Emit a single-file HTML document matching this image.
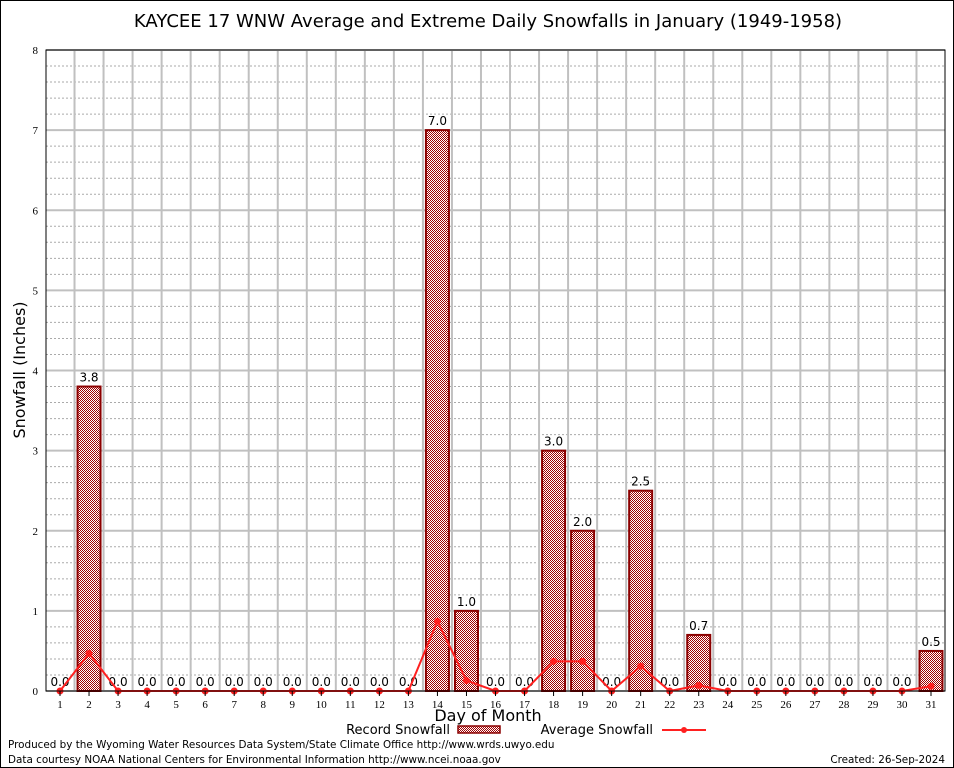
<!DOCTYPE html>
<html><head><meta charset="utf-8"><style>
body{margin:0;background:#fff}
svg{display:block;font-family:"DejaVu Sans","Liberation Sans",sans-serif}
</style></head><body>
<svg id="c" width="954" height="768" viewBox="0 0 954 768">
<defs>
<pattern id="hatch" width="2" height="2" patternUnits="userSpaceOnUse">
<rect width="2" height="2" fill="#fff"/><rect width="1" height="1" fill="#a00000"/><rect x="1" y="1" width="1" height="1" fill="#a00000"/>
</pattern>
</defs>
<rect x="0.5" y="0.5" width="953" height="767" fill="#fff" stroke="#000"/>
<text x="488" y="27" font-size="18" text-anchor="middle">KAYCEE 17 WNW Average and Extreme Daily Snowfalls in January (1949-1958)</text>
<g id="grid"></g><g id="bars"></g><g id="line"></g><g id="axes"></g>
<text x="25" y="370" font-size="16" text-anchor="middle" transform="rotate(-90 25 370)">Snowfall (Inches)</text>
<text x="488" y="721" font-size="16" text-anchor="middle">Day of Month</text>
<g>
<text x="450" y="734" font-size="13" text-anchor="end">Record Snowfall</text>
<rect x="458" y="726" width="42" height="7" fill="url(#hatch)" stroke="#8b0000" stroke-width="1.5"/>
</g>
<g>
<text x="653" y="734" font-size="13" text-anchor="end">Average Snowfall</text>
<line x1="662" y1="730" x2="706" y2="730" stroke="#ff2020" stroke-width="2"/>
<circle cx="684" cy="730" r="3" fill="#ff2020"/>
</g>
<text x="8" y="748" font-size="10.4">Produced by the Wyoming Water Resources Data System/State Climate Office http://www.wrds.uwyo.edu</text>
<text x="8" y="763" font-size="10.4">Data courtesy NOAA National Centers for Environmental Information http://www.ncei.noaa.gov</text>
<text x="945" y="763" font-size="10.4" text-anchor="end">Created: 26-Sep-2024</text>
</svg>
<script>
const days=[1,2,3,4,5,6,7,8,9,10,11,12,13,14,15,16,17,18,19,20,21,22,23,24,25,26,27,28,29,30,31];
const recordSnow=[0,3.8,0,0,0,0,0,0,0,0,0,0,0,7.0,1.0,0,0,3.0,2.0,0,2.5,0,0.7,0,0,0,0,0,0,0,0.5];
const avgSnow=[0,0.47,0,0,0,0,0,0,0,0,0,0,0,0.87,0.13,0,0,0.37,0.37,0,0.31,0,0.07,0,0,0,0,0,0,0,0.06];
const yTicks=[0,1,2,3,4,5,6,7,8];
const NS='http://www.w3.org/2000/svg';
const L=46,R=945,T=50,B=691;
const x=d=>60+(d-1)*(931-60)/30;
const y=v=>B-v*(B-T)/8;
function mk(tag,attrs,parent){const e=document.createElementNS(NS,tag);for(const k in attrs)e.setAttribute(k,attrs[k]);parent.appendChild(e);return e;}
const grid=document.getElementById('grid'),bars=document.getElementById('bars'),line=document.getElementById('line'),axes=document.getElementById('axes');
for(let v=0;v<8;v+=0.2){if(Math.abs(v-Math.round(v))<0.01)continue;
 const g=mk('line',{x1:L,x2:R,y1:y(v),y2:y(v),stroke:'#aaa','stroke-dasharray':'2,2','stroke-width':1},grid);
 
 }
yTicks.forEach(v=>{
 const g=mk('line',{x1:L,x2:R,y1:y(v),y2:y(v),stroke:'#c0c0c0','stroke-width':2},grid);
 
 
 const t=mk('text',{x:L-8,y:y(v)+4,'font-size':11,'text-anchor':'end','font-family':'Liberation Serif, serif'},axes);t.textContent=v;
 
 
});
days.forEach((d,i)=>{
 if(i>0){const g=mk('line',{x1:(x(d)+x(d-1))/2,x2:(x(d)+x(d-1))/2,y1:T,y2:B,stroke:'#c0c0c0','stroke-width':2},grid);
 
 }
 const tk=mk('line',{x1:x(d),x2:x(d),y1:B,y2:B+5,stroke:'#000'},axes);
 
 
 const t=mk('text',{x:x(d),y:B+17,'font-size':11,'text-anchor':'middle','font-family':'Liberation Serif, serif'},axes);t.textContent=d;
 
 
 const v=recordSnow[i];
 if(v>0){const b=mk('rect',{x:x(d)-11.5,y:y(v),width:23,height:B-y(v),fill:'url(#hatch)',stroke:'#8b0000','stroke-width':2},bars);
  
  }
 const lb=mk('text',{x:x(d),y:y(v)-5,'font-size':12,'text-anchor':'middle'},bars);lb.textContent=v.toFixed(1);
 
 
});
const pl=mk('polyline',{points:days.map((d,i)=>x(d)+','+y(avgSnow[i])).join(' '),fill:'none',stroke:'#ff2020','stroke-width':2},line);


days.forEach((d,i)=>{const c=mk('circle',{cx:x(d),cy:y(avgSnow[i]),r:3.5,fill:'#ff2020'},line);
 
 });
const fr=mk('rect',{x:L,y:T,width:R-L,height:B-T,fill:'none',stroke:'#000','stroke-width':1},axes);


</script>
</body></html>
